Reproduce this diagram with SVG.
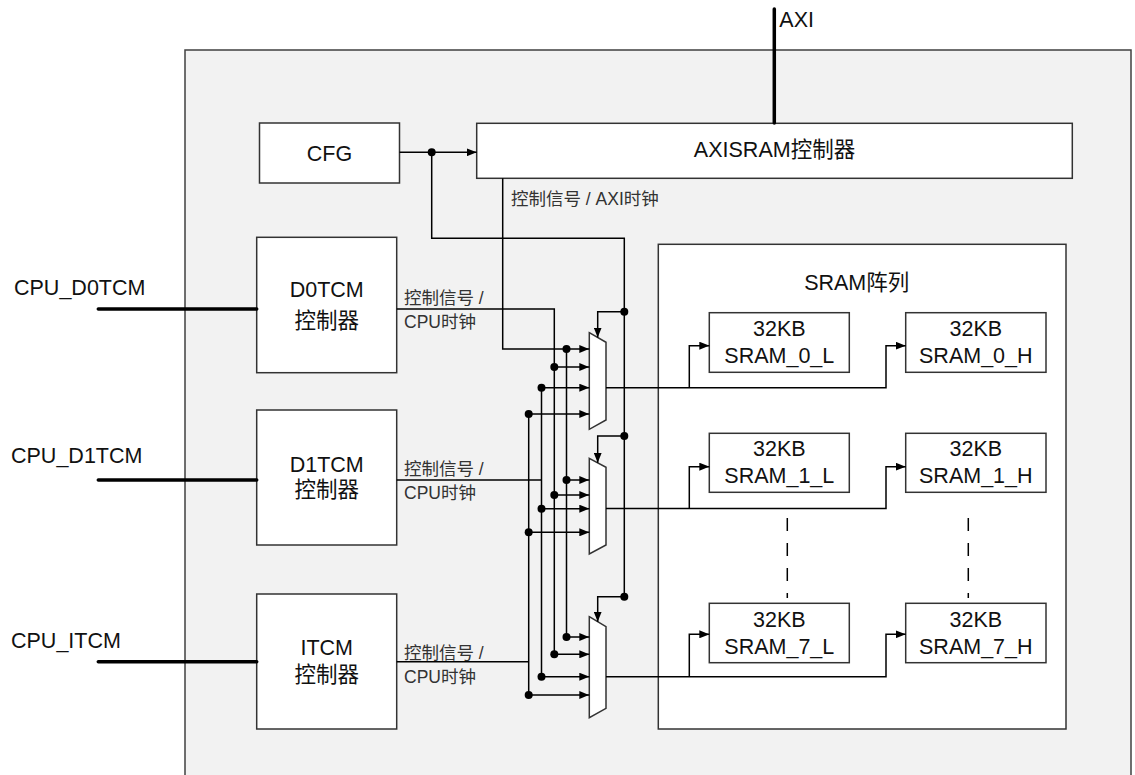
<svg xmlns="http://www.w3.org/2000/svg" width="1135" height="775" viewBox="0 0 1135 775">
<defs>
<marker id="arr" markerUnits="userSpaceOnUse" markerWidth="10" markerHeight="8" refX="10" refY="4" orient="auto"><path d="M0,0 L10,4 L0,8 z" fill="#000"/></marker>
<style>
.box{fill:#fff;stroke:#333;stroke-width:1.5}
.t{font-family:"Liberation Sans","Noto Sans CJK SC",sans-serif;font-size:21.5px;fill:#111}
.s{font-size:17.5px;fill:#333}
.c{text-anchor:middle}
.w{fill:none;stroke:#000;stroke-width:1.5}
.a{marker-end:url(#arr)}
.bus{fill:none;stroke:#000;stroke-width:3.5;stroke-linecap:round}
.dash{fill:none;stroke:#000;stroke-width:1.5;stroke-dasharray:13 12}
.dot{fill:#000}
</style>
</defs>
<rect x="0" y="0" width="1135" height="775" fill="#fff"/>
<g id="outer">
<rect x="185" y="50" width="946" height="740" fill="#f2f2f2" stroke="#404040" stroke-width="1.5"/>
</g>
<g id="sram-array">
<rect class="box" x="658.3" y="244.3" width="407.7" height="484.7"/>
<text class="t c" x="856.7" y="290">SRAM阵列</text>
</g>
<g id="cfg">
<rect class="box" x="259.5" y="123" width="140" height="60"/>
<text class="t c" x="329.5" y="160.7">CFG</text>
</g>
<g id="axisram">
<rect class="box" x="476.7" y="123.3" width="595.6" height="55"/>
<text class="t c" x="774.5" y="156.7">AXISRAM控制器</text>
</g>
<g id="d0tcm">
<rect class="box" x="256.7" y="237.3" width="140" height="135.4"/>
<text class="t c" x="326.7" y="296.7">D0TCM</text>
<text class="t c" x="326.7" y="327.5">控制器</text>
</g>
<g id="d1tcm">
<rect class="box" x="256.7" y="410" width="140" height="135"/>
<text class="t c" x="326.7" y="471.7">D1TCM</text>
<text class="t c" x="326.7" y="497">控制器</text>
</g>
<g id="itcm">
<rect class="box" x="256.7" y="594" width="140" height="135"/>
<text class="t c" x="326.7" y="655">ITCM</text>
<text class="t c" x="326.7" y="681.5">控制器</text>
</g>
<g id="mux0"><path class="box" d="M589.3,332.7 L606,342.3 L606,420 L589.3,429.3 Z"/></g>
<g id="mux1"><path class="box" d="M589.3,458.3 L606,467.3 L606,545 L589.3,554 Z"/></g>
<g id="mux2"><path class="box" d="M589.3,616.7 L606,626.7 L606,708.3 L589.3,717.7 Z"/></g>
<g id="sram0l"><rect class="box" x="709.3" y="312.7" width="140" height="59.6"/><text class="t c" x="779.3" y="335.5">32KB</text><text class="t c" x="779.3" y="363.3">SRAM_0_L</text></g>
<g id="sram0h"><rect class="box" x="905.7" y="312.7" width="140.3" height="59.6"/><text class="t c" x="975.8" y="335.5">32KB</text><text class="t c" x="975.8" y="363.3">SRAM_0_H</text></g>
<g id="sram1l"><rect class="box" x="709.3" y="433.3" width="140" height="59"/><text class="t c" x="779.3" y="456">32KB</text><text class="t c" x="779.3" y="483.3">SRAM_1_L</text></g>
<g id="sram1h"><rect class="box" x="905.7" y="433.3" width="140.3" height="59"/><text class="t c" x="975.8" y="456">32KB</text><text class="t c" x="975.8" y="483.3">SRAM_1_H</text></g>
<g id="sram7l"><rect class="box" x="709.3" y="603.3" width="140" height="59.4"/><text class="t c" x="779.3" y="626.7">32KB</text><text class="t c" x="779.3" y="654">SRAM_7_L</text></g>
<g id="sram7h"><rect class="box" x="905.7" y="603.3" width="140.3" height="59.4"/><text class="t c" x="975.8" y="626.7">32KB</text><text class="t c" x="975.8" y="654">SRAM_7_H</text></g>
<g id="connectors">
<path class="bus" d="M774.3,9 V123"/>
<path class="bus" d="M98.3,309 H256.7"/>
<path class="bus" d="M98.3,480 H256.7"/>
<path class="bus" d="M98.3,661.7 H256.7"/>
<path class="w a" d="M399.5,152.3 H476.7"/>
<path class="w" d="M431.7,152.3 V238.3 H624.3 V596.7"/>
<path class="w a" d="M624.3,311.7 H597.7 V337.5"/>
<path class="w a" d="M624.3,436 H597.7 V462.8"/>
<path class="w a" d="M624.3,596.7 H597.7 V621.7"/>
<path class="w a" d="M502.7,178.3 V349 H589.3"/>
<path class="w" d="M396.7,309 H554.3 V654.3"/>
<path class="w" d="M396.7,480 H541.5"/>
<path class="w" d="M541.5,387.7 V676.7"/>
<path class="w" d="M396.7,661.7 H528.7"/>
<path class="w" d="M528.7,414 V695"/>
<path class="w" d="M566.5,349 V637"/>
<path class="w a" d="M554.3,367 H589.3"/>
<path class="w a" d="M541.5,387.7 H589.3"/>
<path class="w a" d="M528.7,414 H589.3"/>
<path class="w a" d="M566.5,480 H589.3"/>
<path class="w a" d="M554.3,495 H589.3"/>
<path class="w a" d="M541.5,508.7 H589.3"/>
<path class="w a" d="M528.7,532.3 H589.3"/>
<path class="w a" d="M566.5,637 H589.3"/>
<path class="w a" d="M554.3,654.3 H589.3"/>
<path class="w a" d="M541.5,676.7 H589.3"/>
<path class="w a" d="M528.7,695 H589.3"/>
<path class="w a" d="M606,387.7 H886 V345.7 H905.7"/>
<path class="w a" d="M689.3,387.7 V345.7 H709.3"/>
<path class="w a" d="M606,508.5 H886 V466.7 H905.7"/>
<path class="w a" d="M689.3,508.5 V466.7 H709.3"/>
<path class="w a" d="M606,676.7 H886 V634.3 H905.7"/>
<path class="w a" d="M689.3,676.7 V634.3 H709.3"/>
<path class="dash" d="M787.3,518 V598"/>
<path class="dash" d="M968.3,518 V598"/>
<circle class="dot" cx="431.7" cy="152.3" r="4"/>
<circle class="dot" cx="624.3" cy="311.7" r="4"/>
<circle class="dot" cx="624.3" cy="436" r="4"/>
<circle class="dot" cx="624.3" cy="596.7" r="4"/>
<circle class="dot" cx="566.5" cy="349" r="4"/>
<circle class="dot" cx="554.3" cy="367" r="4"/>
<circle class="dot" cx="541.5" cy="387.7" r="4"/>
<circle class="dot" cx="528.7" cy="414" r="4"/>
<circle class="dot" cx="566.5" cy="480" r="4"/>
<circle class="dot" cx="554.3" cy="495" r="4"/>
<circle class="dot" cx="541.5" cy="508.7" r="4"/>
<circle class="dot" cx="528.7" cy="532.3" r="4"/>
<circle class="dot" cx="566.5" cy="637" r="4"/>
<circle class="dot" cx="554.3" cy="654.3" r="4"/>
<circle class="dot" cx="541.5" cy="676.7" r="4"/>
<circle class="dot" cx="528.7" cy="695" r="4"/>
</g>
<g id="labels">
<text class="t" x="779.3" y="26.7">AXI</text>
<text class="t" x="14" y="295">CPU_D0TCM</text>
<text class="t" x="11" y="463.3">CPU_D1TCM</text>
<text class="t" x="11" y="648.3">CPU_ITCM</text>
<text class="t s" x="511" y="204.5">控制信号 / AXI时钟</text>
<text class="t s" x="404" y="304">控制信号 /</text>
<text class="t s" x="404" y="328">CPU时钟</text>
<text class="t s" x="404" y="475">控制信号 /</text>
<text class="t s" x="404" y="499.3">CPU时钟</text>
<text class="t s" x="404" y="659.3">控制信号 /</text>
<text class="t s" x="404" y="682.7">CPU时钟</text>
</g>
</svg>
